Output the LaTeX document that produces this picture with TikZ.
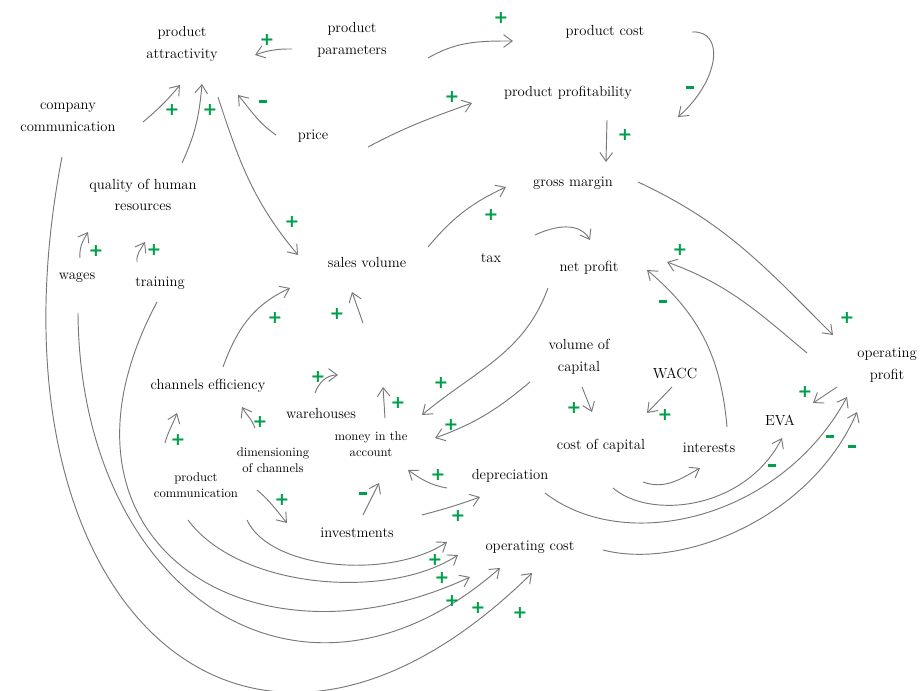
\documentclass[tikz,border=0pt]{standalone}
\usepackage{fontspec}
\newfontfamily\signfont{DejaVu Sans}
\usetikzlibrary{arrows.meta, calc}
\definecolor{linkgray}{RGB}{120,120,120}
\definecolor{signgreen}{RGB}{0,160,75}
\newcommand{\negsign}{\rule{2.4mm}{0.9mm}}

\begin{document}
\begin{tikzpicture}[
    x=0.03cm, y=0.03cm,
    concept/.style={align=center, inner sep=2pt, font=\fontsize{12.5}{18.5}\selectfont},
    minor/.style={concept, font=\fontsize{10.8}{13.8}\selectfont},
    sign/.style={inner sep=0pt, text=signgreen, font=\signfont\bfseries\fontsize{15}{15}\selectfont},
    link/.style={-{Straight Barb[length=2.6mm,width=3.8mm]}, draw=linkgray, line width=0.8pt}
]
\useasboundingbox (0,0) rectangle (921,690);

% Nodes
\node[concept] (pattr) at (182,646) {product\\attractivity};
\node[concept] (pparam) at (352,650) {product\\parameters};
\node[concept] (pcost) at (605,658) {product cost};
\node[concept] (pprofit) at (568,597) {product profitability};
\node[concept] (ccomm) at (68,573) {company\\communication};
\node[concept] (price) at (313,554) {price};
\node[concept] (qhr) at (143,495) {quality of human\\resources};
\node[concept] (gmargin) at (573,507) {gross margin};
\node[concept] (wages) at (77,412) {wages};
\node[concept] (training) at (160,407) {training};
\node[concept] (salesvol) at (367,428) {sales volume};
\node[concept] (tax) at (491,432) {tax};
\node[concept] (netprofit) at (589,422) {net profit};
\node[concept] (opprofit) at (887,325) {operating\\profit};
\node[concept] (volcap) at (579,333) {volume of\\capital};
\node[concept] (wacc) at (675,317) {WACC};
\node[concept] (chaneff) at (208,304) {channels efficiency};
\node[concept] (warehouses) at (321,277) {warehouses};
\node[minor] (money) at (371,246) {money in the\\account};
\node[minor] (dimens) at (273,230) {dimensioning\\of channels};
\node[minor] (pcomm) at (196,205) {product\\communication};
\node[concept] (eva) at (780,270) {EVA};
\node[concept] (costcap) at (601,244) {cost of capital};
\node[concept] (interests) at (709,242) {interests};
\node[concept] (deprec) at (510,214) {depreciation};
\node[concept] (invest) at (357,157) {investments};
\node[concept] (opcost) at (530,143) {operating cost};

% Loose ends
\coordinate (salesfeed) at (363,367);
\coordinate (moneyout) at (383,303);
\coordinate (whout) at (338,315);

% Links
\draw[link] ($(pparam)+(-60,-9)$) to[bend right=10] ($(pattr)+(73,-11)$);
\draw[link] ($(pparam)+(76,-18)$) to[out=30, in=180] ($(pcost)+(-92,-9)$);
\draw[link] ($(pcost)+(87,0)$) .. controls +(33,2) and +(42,37) .. ($(pprofit)+(110,-24)$);
\draw[link] ($(price)+(55,-11)$) to[out=28, in=200] ($(pprofit)+(-96,-10)$);
\draw[link] ($(pprofit)+(39,-27)$) -- ($(gmargin)+(33,21)$);
\draw[link] ($(gmargin)+(65,1)$) to[out=-25, in=135] ($(opprofit)+(-54,30)$);
\draw[link] ($(ccomm)+(75,-5)$) to[out=40, in=230] ($(pattr)+(-2,-41)$);
\draw[link] ($(qhr)+(39,32)$) to[out=65, in=265] ($(pattr)+(20,-40)$);
\draw[link] ($(pattr)+(36,-53)$) to[out=-72, in=130] ($(salesvol)+(-69,7)$);
\draw[link] ($(price)+(-37,1)$) to[out=145, in=-50] ($(pattr)+(56,-51)$);
\draw[link] ($(wages)+(3,20)$) to[out=95, in=240] ($(qhr)+(-55,-37)$);
\draw[link] ($(training)+(-23,21)$) to[out=95, in=240] ($(qhr)+(2,-47)$);
\draw[link] ($(salesvol)+(61,15)$) to[out=50, in=205] ($(gmargin)+(-67,-4)$);
\draw[link] ($(tax)+(44,23)$) to[out=25, in=120] ($(netprofit)+(1,28)$);
\draw[link] ($(netprofit)+(-41,-20)$) to[out=-110, in=40] ($(money)+(51,29)$);
\draw[link] ($(volcap)+(-49,-25)$) to[out=220, in=20] ($(money)+(64,6)$);
\draw[link] ($(opprofit)+(-80,12)$) to[out=140, in=-20] ($(netprofit)+(78,6)$);
\draw[link] ($(interests)+(18,21)$) to[out=95, in=-40] ($(netprofit)+(58,-2)$);
\draw[link] ($(volcap)+(3,-30)$) -- ($(costcap)+(-9,34)$);
\draw[link] ($(wacc)+(-3,-14)$) -- ($(costcap)+(46,33)$);
\draw[link] ($(opprofit)+(-50,-22)$) -- ($(eva)+(33,17)$);
\draw[link] ($(costcap)+(12,-42)$) .. controls +(37,-32) and +(-37,-72) .. ($(eva)+(2,-18)$);
\draw[link] ($(costcap)+(42,-36)$) to[out=-20, in=210] ($(interests)+(-9,-20)$);
\draw[link] ($(deprec)+(35,-17)$) .. controls +(80,-62) and +(-67,-123) .. ($(opprofit)+(-40,-32)$);
\draw[link] ($(opcost)+(73,-3)$) .. controls +(77,-20) and +(-47,-108) .. ($(opprofit)+(-30,-47)$);
\draw[link] ($(chaneff)+(15,19)$) to[out=70, in=205] ($(salesvol)+(-77,-26)$);
\draw[link] (salesfeed) -- ($(salesvol)+(-15,-30)$);
\draw[link] ($(money)+(14,26)$) -- (moneyout);
\draw[link] ($(warehouses)+(-6,20)$) to[out=70, in=180] (whout);
\draw[link] ($(pcomm)+(-31,42)$) to[out=75, in=250] ($(chaneff)+(-31,-27)$);
\draw[link] ($(dimens)+(-18,32)$) to[out=110, in=-60] ($(chaneff)+(34,-21)$);
\draw[link] ($(dimens)+(-16,-30)$) to[out=-40, in=130] ($(invest)+(-70,10)$);
\draw[link] ($(invest)+(6,18)$) -- ($(money)+(8,-39)$);
\draw[link] ($(deprec)+(-63,-12)$) to[out=170, in=-35] ($(money)+(37,-26)$);
\draw[link] ($(invest)+(65,18)$) to[out=15, in=200] ($(deprec)+(-30,-21)$);
\draw[link] ($(dimens)+(-26,-60)$) .. controls +(23,-50) and +(-57,-38) .. ($(opcost)+(-83,5)$);
\draw[link] ($(pcomm)+(-8,-35)$) .. controls +(52,-70) and +(-68,-45) .. ($(opcost)+(-72,-8)$);
\draw[link] ($(training)+(-3,-19)$) .. controls +(-127,-238) and +(-220,-103) .. ($(opcost)+(-60,-30)$);
\draw[link] ($(wages)+(1,-35)$) .. controls +(2,-277) and +(-200,-175) .. ($(opcost)+(-30,-21)$);
\draw[link] ($(ccomm)+(-6,-40)$) .. controls +(-85,-440) and +(-290,-285) .. ($(opcost)+(2,-26)$);

% Signs
\foreach \x/\y/\s [count=\i] in {267/650/+, 501/672/+, 690/602/\negsign, 452/593/+, 625/555/+,
    847/372/+, 172/580/+, 210/580/+, 292/468/+, 263/588/\negsign, 96/439/+, 154/440/+, 491/475/+,
    441/307/+, 451/265/+, 680/440/+, 663/388/\negsign, 574/282/+, 665/275/+, 805/298/+, 772/225/\negsign,
    830/253/\negsign, 852/243/\negsign, 275/372/+, 337/376/+, 398/287/+, 318/313/+, 178/250/+, 260/268/+,
    282/190/+, 363/197/\negsign, 438/215/+, 458/174/+, 435/130/+, 442/112/+, 452/89/+, 478/82/+, 520/77/+}
    \node[sign] (sign\i) at (\x,\y) {\s};

\end{tikzpicture}
\end{document}
